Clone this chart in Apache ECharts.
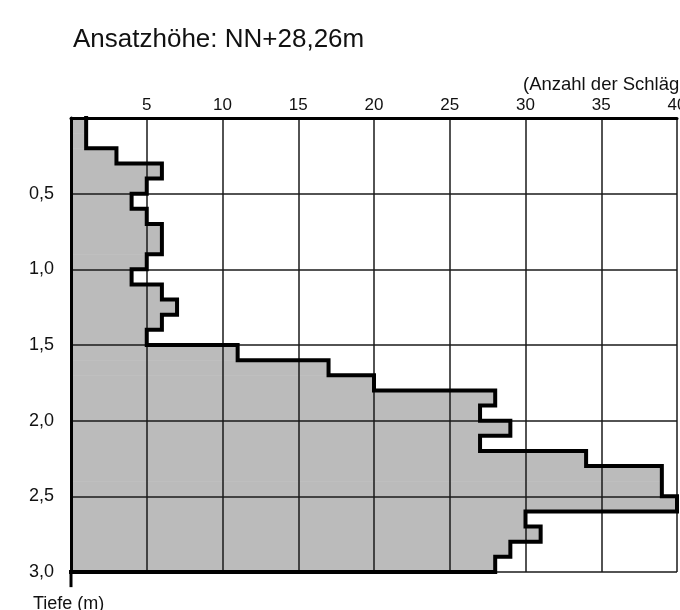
<!DOCTYPE html>
<html>
<head>
<meta charset="utf-8">
<script src="https://cdn.jsdelivr.net/npm/echarts@6/dist/echarts.min.js"></script>
<style>html,body{margin:0;padding:0;background:#fff}#c{width:680px;height:610px}</style>
</head>
<body>
<div id="c"></div>
<script>
// Depth intervals of 0.1 m (Tiefe, m) and blow counts per interval (Anzahl der Schläge)
const depthTop = [0.0,0.1,0.2,0.3,0.4,0.5,0.6,0.7,0.8,0.9,1.0,1.1,1.2,1.3,1.4,1.5,1.6,1.7,1.8,1.9,2.0,2.1,2.2,2.3,2.4,2.5,2.6,2.7,2.8,2.9];
const depthBottom = [0.1,0.2,0.3,0.4,0.5,0.6,0.7,0.8,0.9,1.0,1.1,1.2,1.3,1.4,1.5,1.6,1.7,1.8,1.9,2.0,2.1,2.2,2.3,2.4,2.5,2.6,2.7,2.8,2.9,3.0];
const blows = [1,1,3,6,5,4,5,6,6,5,4,6,7,6,5,11,17,20,28,27,29,27,34,39,39,40,30,31,29,28];
const xTicks = [0,5,10,15,20,25,30,35,40];
const yTicks = [0,0.5,1.0,1.5,2.0,2.5,3.0];
const titleText = 'Ansatzhöhe: NN+28,26m';
const xName = '(Anzahl der Schläge)';
const yName = 'Tiefe (m)';

const FONT = 'Liberation Sans, Arial, sans-serif';
const fillData = blows.map((v, i) => [depthTop[i], depthBottom[i], v]);
const outline = [];
blows.forEach((v, i) => { outline.push([v, depthTop[i]]); outline.push([v, depthBottom[i]]); });
outline.push([0, depthBottom[depthBottom.length - 1]]);
const axisExt = [[0, yTicks[yTicks.length - 1]], [0, yTicks[yTicks.length - 1] + 0.1]];

const chart = echarts.init(document.getElementById('c'), null, {renderer: 'canvas'});
chart.setOption({
  animation: false,
  backgroundColor: '#fff',
  title: [
    {text: titleText, left: 68, top: 22, textStyle: {fontFamily: FONT, fontSize: 26, fontWeight: 'normal', color: '#111'}},
    {text: xName, left: 518, top: 70, textStyle: {fontFamily: FONT, fontSize: 18.5, fontWeight: 'normal', color: '#111'}},
    {text: yName, left: 28, top: 590, textStyle: {fontFamily: FONT, fontSize: 18, fontWeight: 'normal', color: '#111'}}
  ],
  grid: {left: 71, top: 118, right: 3, bottom: 38, containLabel: false, outerBoundsMode: 'none'},
  xAxis: {
    type: 'value', position: 'top', min: xTicks[0], max: xTicks[xTicks.length - 1], interval: 5, z: 3,
    axisLine: {show: true, lineStyle: {color: '#000', width: 3}},
    axisTick: {show: false},
    axisLabel: {fontFamily: FONT, fontSize: 17, color: '#111', margin: 4, formatter: v => v === 0 ? '' : String(v)},
    splitLine: {show: true, lineStyle: {color: '#1a1a1a', width: 1.5}}
  },
  yAxis: {
    type: 'value', inverse: true, min: yTicks[0], max: yTicks[yTicks.length - 1], interval: 0.5, z: 3,
    axisLine: {show: true, lineStyle: {color: '#000', width: 3}},
    axisTick: {show: false},
    axisLabel: {fontFamily: FONT, fontSize: 18, color: '#111', margin: 17, formatter: v => v === 0 ? '' : v.toFixed(1).replace('.', ',')},
    splitLine: {show: true, lineStyle: {color: '#1a1a1a', width: 1.5}}
  },
  series: [
    {
      type: 'custom', z: 1, data: fillData, silent: true,
      renderItem: function (params, api) {
        const p0 = api.coord([0, api.value(0)]);
        const p1 = api.coord([api.value(2), api.value(1)]);
        return {type: 'rect', shape: {x: p0[0], y: p0[1], width: p1[0] - p0[0], height: p1[1] - p0[1] + 0.5}, style: {fill: '#bbbbbb'}};
      },
      encode: {x: 2, y: [0, 1]}
    },
    {
      type: 'line', z: 10, data: outline, symbol: 'none', clip: false, silent: true,
      lineStyle: {color: '#000', width: 4, join: 'miter', cap: 'square'}
    },
    {
      type: 'line', z: 10, data: axisExt, symbol: 'none', clip: false, silent: true,
      lineStyle: {color: '#000', width: 3}
    }
  ]
});
</script>
</body>
</html>
